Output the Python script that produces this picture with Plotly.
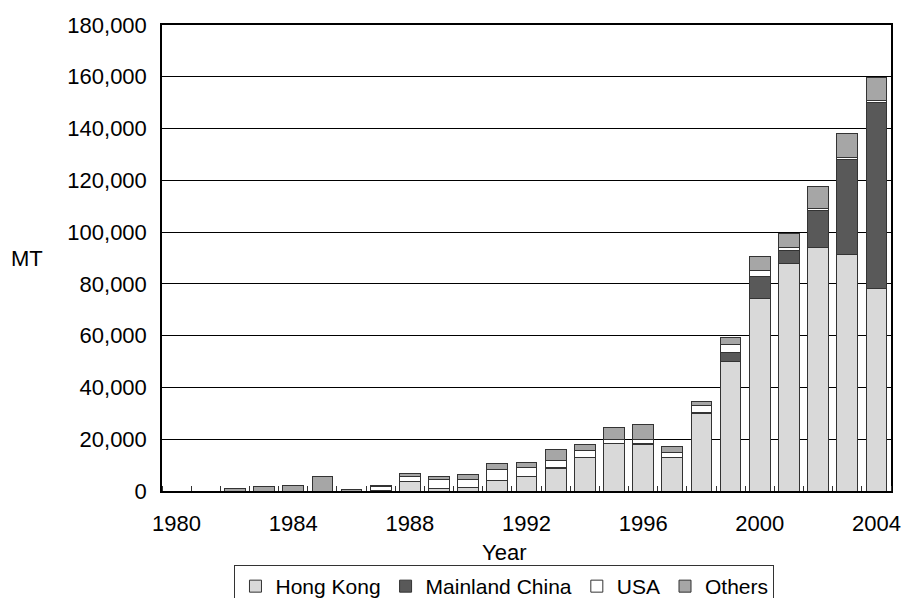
import plotly.graph_objects as go

years = list(range(1980, 2005))
hong_kong = [0, 0, 0, 0, 0, 0, 0, 300, 3700, 970, 1430, 3870, 5550, 8780, 12900,
             18190, 17800, 12770, 29800, 50040, 74180, 87850, 94160, 91200, 78300]
mainland_china = [0, 0, 0, 0, 0, 0, 0, 0, 0, 0, 0, 0, 0, 300, 0,
                  0, 400, 0, 650, 3480, 8770, 5160, 14320, 36900, 71600]
usa = [0, 0, 0, 0, 0, 0, 0, 1300, 1750, 3300, 2830, 4260, 3480, 2710, 2710,
       1800, 1680, 2060, 2450, 2970, 2320, 1160, 650, 900, 1030]
others = [0, 0, 800, 1550, 2300, 5700, 500, 650, 1400, 1280, 2200, 2580, 2060, 4390, 2190,
          4640, 5930, 2320, 1680, 2970, 5420, 5160, 8640, 9160, 8770]

series = [
    ("Hong Kong", hong_kong, "#d9d9d9"),
    ("Mainland China", mainland_china, "#595959"),
    ("USA", usa, "#ffffff"),
    ("Others", others, "#a6a6a6"),
]
x_tick_vals = [1980, 1984, 1988, 1992, 1996, 2000, 2004]
y_tick_vals = list(range(0, 180001, 20000))

FONT = "Liberation Sans"

fig = go.Figure()
for name, vals, color in series:
    fig.add_trace(go.Bar(
        x=years, y=vals, name=name, width=0.71,
        marker=dict(color=color, line=dict(color="#333333", width=1)),
    ))

# page has an 8px body margin: figure is placed at (8, 8)
fig.update_layout(
    barmode="stack",
    width=895, height=590,
    margin=dict(l=154, r=12, t=17, b=107, autoexpand=False),
    plot_bgcolor="white", paper_bgcolor="white",
    font=dict(family=FONT, size=22, color="black"),
    showlegend=True,
    legend=dict(
        orientation="h", x=0.4698, xanchor="center", y=-0.1588, yanchor="top",
        bordercolor="#333333", borderwidth=1, font=dict(size=21, family=FONT),
        itemwidth=30, traceorder="normal", tracegroupgap=0,
    ),
    annotations=[
        dict(text="MT", xref="paper", yref="paper", x=-0.2099, y=0.5,
             xanchor="left", yanchor="middle", showarrow=False,
             font=dict(size=22, family=FONT, color="black")),
        dict(text="Year", xref="paper", yref="paper", x=0.469, y=-0.133,
             xanchor="center", yanchor="middle", showarrow=False,
             font=dict(size=22, family=FONT, color="black")),
    ],
)

fig.update_xaxes(
    range=[1979.5, 2004.5], automargin=False,
    tickmode="array", tickvals=x_tick_vals, ticktext=[str(v) for v in x_tick_vals],
    ticks="", showgrid=False, zeroline=False, ticklabeloverflow="allow",
    showline=True, linecolor="black", linewidth=1.5, mirror=True,
    ticklabelstandoff=12,
    minor=dict(ticks="inside", ticklen=5, tickcolor="#333333", tickwidth=1,
               tick0=1979.5, dtick=1, showgrid=False),
    tickfont=dict(size=22, family=FONT),
)
fig.update_yaxes(
    range=[0, 180000], automargin=False,
    tickmode="array", tickvals=y_tick_vals,
    ticktext=[f"{v:,}" for v in y_tick_vals],
    ticks="", showgrid=True, gridcolor="black", gridwidth=1, zeroline=False,
    showline=True, linecolor="black", linewidth=1.5, mirror=True,
    ticklabelstandoff=9,
    tickfont=dict(size=22, family=FONT),
)

fig.write_html("out.html")
